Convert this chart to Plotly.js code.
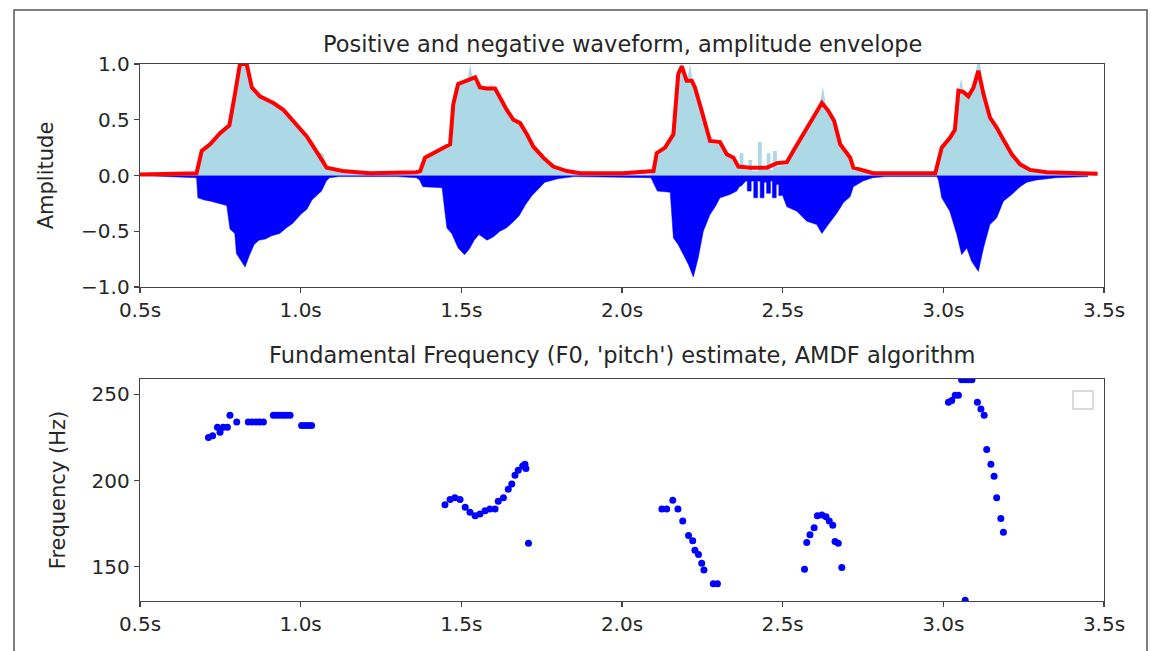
<!DOCTYPE html>
<html>
<head>
<meta charset="utf-8">
<script src="https://cdn.plot.ly/plotly-3.0.1.min.js"></script>
<style>html,body{margin:0;padding:0;background:#fff;}#chart{width:1151px;height:651px;}</style>
</head>
<body>
<div id="chart"></div>
<script>
// ---- Top panel: amplitude envelope (red line) ----
const envTime = [0.50,0.60,0.676,0.692,0.718,0.749,0.778,0.795,0.811,0.832,0.848,0.873,0.915,0.946,0.977,1.019,1.055,1.081,1.13,1.216,1.36,1.372,1.387,1.413,1.444,1.465,1.475,1.49,1.517,1.543,1.558,1.579,1.605,1.62,1.641,1.662,1.683,1.704,1.724,1.755,1.786,1.828,1.87,2.003,2.087,2.098,2.108,2.134,2.16,2.175,2.186,2.201,2.217,2.227,2.248,2.274,2.305,2.326,2.347,2.362,2.399,2.451,2.482,2.513,2.533,2.564,2.596,2.622,2.642,2.66,2.679,2.71,2.72,2.782,2.975,2.995,3.021,3.036,3.047,3.062,3.078,3.094,3.109,3.125,3.145,3.166,3.187,3.213,3.239,3.27,3.322,3.48];
const envAmp  = [0.01,0.015,0.02,0.22,0.28,0.38,0.45,0.72,1.00,1.00,0.79,0.71,0.65,0.59,0.49,0.35,0.19,0.07,0.04,0.02,0.03,0.04,0.16,0.20,0.25,0.28,0.64,0.82,0.85,0.88,0.79,0.78,0.78,0.70,0.59,0.50,0.47,0.37,0.26,0.16,0.08,0.04,0.02,0.02,0.03,0.04,0.20,0.25,0.37,0.91,0.98,0.85,0.85,0.79,0.58,0.31,0.30,0.19,0.16,0.08,0.07,0.07,0.11,0.12,0.22,0.37,0.52,0.65,0.58,0.49,0.28,0.16,0.07,0.02,0.02,0.25,0.34,0.41,0.76,0.75,0.71,0.79,0.94,0.73,0.52,0.43,0.32,0.19,0.10,0.05,0.03,0.015];

// ---- Top panel: positive waveform (light blue) ----
const posTime = [0.50,0.60,0.676,0.692,0.718,0.749,0.775,0.80,0.815,0.835,0.85,0.875,0.915,0.946,0.977,1.019,1.04,1.055,1.07,1.085,1.13,1.36,1.372,1.387,1.413,1.444,1.465,1.475,1.49,1.517,1.528,1.535,1.558,1.579,1.595,1.605,1.62,1.641,1.662,1.683,1.704,1.715,1.724,1.755,1.765,1.786,1.828,1.87,2.087,2.098,2.108,2.134,2.16,2.175,2.186,2.201,2.212,2.222,2.24,2.248,2.274,2.305,2.326,2.347,2.362,2.366,2.366,2.378,2.378,2.393,2.393,2.405,2.405,2.423,2.423,2.435,2.435,2.450,2.450,2.462,2.462,2.470,2.470,2.482,2.482,2.513,2.533,2.564,2.596,2.615,2.625,2.635,2.642,2.66,2.679,2.71,2.72,2.782,2.975,2.995,3.021,3.036,3.047,3.055,3.065,3.078,3.094,3.105,3.115,3.125,3.145,3.166,3.18,3.187,3.20,3.213,3.239,3.27,3.322,3.48];
const posAmp  = [0.0,0.01,0.01,0.20,0.26,0.36,0.42,0.70,1.00,1.00,0.76,0.69,0.63,0.57,0.47,0.33,0.25,0.20,0.20,0.05,0.02,0.02,0.03,0.14,0.18,0.23,0.26,0.62,0.80,0.83,1.00,0.86,0.77,0.77,0.82,0.76,0.68,0.57,0.48,0.45,0.35,0.30,0.24,0.20,0.12,0.06,0.02,0.01,0.01,0.03,0.18,0.23,0.35,0.89,1.00,0.84,1.00,0.80,0.70,0.56,0.29,0.28,0.18,0.15,0.07,0.07,0.20,0.20,0.05,0.05,0.14,0.14,0.04,0.04,0.30,0.30,0.05,0.05,0.20,0.20,0.05,0.05,0.22,0.22,0.08,0.10,0.20,0.35,0.50,0.62,0.80,0.62,0.56,0.47,0.26,0.14,0.05,0.01,0.01,0.23,0.32,0.39,0.74,0.87,0.73,0.69,0.77,1.00,1.00,0.71,0.50,0.42,0.35,0.31,0.30,0.18,0.09,0.04,0.02,0.01];

// ---- Top panel: negative waveform (blue) ----
const negTime = [0.50,0.60,0.676,0.68,0.70,0.72,0.745,0.77,0.78,0.795,0.80,0.827,0.84,0.855,0.87,0.89,0.91,0.935,0.955,0.975,1.00,1.02,1.035,1.05,1.065,1.08,1.09,1.12,1.30,1.36,1.37,1.38,1.44,1.455,1.47,1.49,1.51,1.525,1.54,1.555,1.57,1.58,1.60,1.62,1.64,1.66,1.68,1.70,1.72,1.74,1.76,1.80,1.85,2.09,2.10,2.11,2.15,2.16,2.175,2.19,2.207,2.222,2.237,2.253,2.274,2.29,2.305,2.336,2.357,2.365,2.373,2.385,2.390,2.390,2.402,2.402,2.410,2.410,2.422,2.422,2.430,2.430,2.442,2.442,2.450,2.450,2.462,2.462,2.468,2.468,2.480,2.480,2.488,2.488,2.500,2.505,2.513,2.544,2.575,2.606,2.622,2.642,2.668,2.69,2.71,2.72,2.75,2.78,2.82,2.98,2.985,2.995,3.02,3.042,3.057,3.073,3.088,3.109,3.125,3.145,3.166,3.187,3.213,3.239,3.26,3.29,3.35,3.45];
const negAmp  = [0,-0.01,-0.02,-0.20,-0.22,-0.23,-0.25,-0.27,-0.48,-0.52,-0.70,-0.82,-0.72,-0.62,-0.58,-0.57,-0.54,-0.52,-0.47,-0.43,-0.35,-0.30,-0.22,-0.18,-0.14,-0.05,-0.02,-0.01,-0.01,-0.02,-0.04,-0.10,-0.11,-0.47,-0.52,-0.65,-0.71,-0.66,-0.58,-0.53,-0.56,-0.58,-0.55,-0.50,-0.47,-0.42,-0.36,-0.26,-0.18,-0.12,-0.06,-0.03,-0.01,-0.02,-0.08,-0.14,-0.15,-0.56,-0.62,-0.71,-0.80,-0.91,-0.74,-0.50,-0.35,-0.28,-0.20,-0.17,-0.14,-0.10,-0.09,-0.05,-0.05,-0.14,-0.14,-0.05,-0.05,-0.20,-0.20,-0.05,-0.05,-0.20,-0.20,-0.06,-0.06,-0.16,-0.16,-0.05,-0.05,-0.20,-0.20,-0.08,-0.08,-0.18,-0.18,-0.22,-0.28,-0.32,-0.41,-0.44,-0.52,-0.44,-0.34,-0.24,-0.19,-0.10,-0.05,-0.02,-0.01,-0.01,-0.04,-0.20,-0.32,-0.53,-0.71,-0.65,-0.77,-0.86,-0.65,-0.44,-0.38,-0.23,-0.17,-0.10,-0.06,-0.04,-0.02,-0.01];

// ---- Bottom panel: F0 estimates ----
const f0Time = [0.713,0.726,0.741,0.749,0.759,0.772,0.780,0.801,0.837,0.849,0.861,0.872,0.884,0.915,0.925,0.935,0.946,0.956,0.967,1.003,1.013,1.024,1.034,
  1.449,1.465,1.480,1.496,1.512,1.527,1.543,1.558,1.574,1.589,1.605,1.615,1.631,1.646,1.657,1.667,1.677,1.691,1.698,1.701,1.709,
  2.124,2.139,2.158,2.174,2.189,2.207,2.220,2.227,2.238,2.248,2.255,2.284,2.297,
  2.568,2.575,2.585,2.598,2.608,2.622,2.635,2.645,2.656,2.663,2.673,2.684,
  3.016,3.026,3.037,3.047,3.057,3.068,3.078,3.089,3.106,3.117,3.127,3.135,3.148,3.158,3.166,3.179,3.187,3.068];
const f0Hz = [225,226,231,228,231,231,238,234,234,234,234,234,234,238,238,238,238,238,238,232,232,232,232,
  186,189,190,189,184.5,181.5,179.5,180.5,182.5,183.5,183.5,188,190,195,198,203,206,208.5,209.5,207,163.5,
  183.5,183.5,188.5,183.5,176.5,168,165,159.5,157,152,148,140,140,
  148.5,164,168.5,172.5,179.5,180,179,176.5,174,164.5,163.5,149.5,
  245.5,246.5,249.5,249.5,258.5,258.5,258.5,258.5,245.5,241.5,238,218,209.5,202.5,190,178,170,130.5];

// ---- Tick definitions ----
const ampTicks = [-1.0,-0.5,0.0,0.5,1.0];
const freqTicks = [150,200,250];
const timeTicks = [0.5,1.0,1.5,2.0,2.5,3.0,3.5];
const timeTickText = timeTicks.map(v => v.toFixed(1) + 's');
const ampTickText = ampTicks.map(v => (v < 0 ? '\u2212' : '') + Math.abs(v).toFixed(1));

const FONT = 'DejaVu Sans, sans-serif';
const TXT = '#262626';
const TICK_SIZE = 20, LABEL_SIZE = 21, TITLE_SIZE = 22.5;

const traces = [
  {x: posTime, y: posAmp, type: 'scatter', mode: 'lines', fill: 'tozeroy',
   fillcolor: '#ADD8E6', line: {width: 0, color: '#ADD8E6'}, xaxis: 'x', yaxis: 'y', hoverinfo: 'skip'},
  {x: negTime, y: negAmp, type: 'scatter', mode: 'lines', fill: 'tozeroy',
   fillcolor: '#0000FF', line: {width: 0.5, color: '#0000FF'}, xaxis: 'x', yaxis: 'y', hoverinfo: 'skip'},
  {x: envTime, y: envAmp, type: 'scatter', mode: 'lines',
   line: {width: 4, color: '#FF0000'}, xaxis: 'x', yaxis: 'y'},
  {x: f0Time, y: f0Hz, type: 'scatter', mode: 'markers',
   marker: {size: 7, color: '#0000FF'}, xaxis: 'x2', yaxis: 'y2'}
];

const axisCommon = {
  showline: true, mirror: true, linecolor: '#444', linewidth: 1.3,
  ticks: 'outside', ticklen: 5, tickwidth: 1.2, tickcolor: '#444',
  showgrid: false, zeroline: false,
  tickfont: {family: FONT, size: TICK_SIZE, color: TXT}
};

const layout = {
  width: 1151, height: 651,
  margin: {l: 140, r: 47, t: 64, b: 50},
  paper_bgcolor: '#fff', plot_bgcolor: '#fff',
  showlegend: false,
  font: {family: FONT, color: TXT},
  xaxis: Object.assign({}, axisCommon, {domain: [0, 1], anchor: 'y', range: [0.5, 3.5],
    tickmode: 'array', tickvals: timeTicks, ticktext: timeTickText}),
  yaxis: Object.assign({}, axisCommon, {domain: [0.5847, 1], anchor: 'x', range: [-1, 1],
    tickmode: 'array', tickvals: ampTicks, ticktext: ampTickText,
    title: {text: 'Amplitude', font: {family: FONT, size: LABEL_SIZE, color: TXT}, standoff: 21}}),
  xaxis2: Object.assign({}, axisCommon, {domain: [0, 1], anchor: 'y2', range: [0.5, 3.5],
    tickmode: 'array', tickvals: timeTicks, ticktext: timeTickText}),
  yaxis2: Object.assign({}, axisCommon, {domain: [0, 0.4134], anchor: 'x2', range: [130, 259],
    tickmode: 'array', tickvals: freqTicks, ticktext: freqTicks.map(String),
    title: {text: 'Frequency (Hz)', font: {family: FONT, size: LABEL_SIZE, color: TXT}, standoff: 20}}),
  annotations: [
    {text: 'Positive and negative waveform, amplitude envelope', xref: 'paper', yref: 'paper',
     x: 0.5, y: (601 - 44) / 537, xanchor: 'center', yanchor: 'middle', showarrow: false,
     font: {family: FONT, size: TITLE_SIZE, color: TXT}},
    {text: "Fundamental Frequency (F0, 'pitch') estimate, AMDF algorithm", xref: 'paper', yref: 'paper',
     x: 0.5, y: (601 - 355) / 537, xanchor: 'center', yanchor: 'middle', showarrow: false,
     font: {family: FONT, size: TITLE_SIZE, color: TXT}}
  ],
  shapes: [
    {type: 'rect', xref: 'paper', yref: 'paper', x0: (14 - 140) / 964, x1: (1147 - 140) / 964,
     y0: -0.2, y1: (601 - 10) / 537, line: {color: '#555', width: 1.5}, fillcolor: 'rgba(0,0,0,0)'},
    {type: 'rect', xref: 'paper', yref: 'paper', x0: (1073 - 140) / 964, x1: (1093 - 140) / 964,
     y0: (601 - 409) / 537, y1: (601 - 391) / 537, line: {color: '#d0d0d0', width: 1.5}, fillcolor: '#fff'}
  ]
};

Plotly.newPlot('chart', traces, layout, {staticPlot: true, displayModeBar: false});
</script>
</body>
</html>
